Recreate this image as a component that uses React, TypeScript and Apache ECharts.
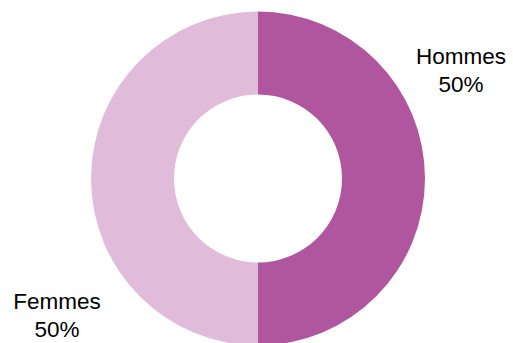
import React, { useEffect, useRef } from "react";
import * as echarts from "echarts";

const categories = ["Hommes", "Femmes"];
const values = [50, 50];
const colors = ["#B0569F", "#E1BCDA"];

export default function App() {
  const ref = useRef<HTMLDivElement>(null);
  useEffect(() => {
    if (!ref.current) return;
    const chart = echarts.init(ref.current, undefined, { renderer: "svg" });
    const labelPos = [
      { x: 461, y: 70 },
      { x: 57, y: 315 },
    ];
    chart.setOption({
      animation: false,
      backgroundColor: "#ffffff",
      series: [
        {
          type: "pie",
          center: [258, 178.5],
          radius: [84, 167],
          startAngle: 90,
          clockwise: true,
          data: categories.map((c, i) => ({
            name: c,
            value: values[i],
            itemStyle: { color: colors[i] },
          })),
          label: {
            show: false,
          },
          labelLine: { show: false },
          emphasis: { disabled: true },
        },
      ],
      graphic: categories.map((c, i) => ({
        type: "text",
        x: labelPos[i].x,
        y: labelPos[i].y,
        style: {
          text: c + "\n" + Math.round((values[i] / values.reduce((a, b) => a + b, 0)) * 100) + "%",
          fontFamily: "Liberation Sans, Arial, sans-serif",
          fontSize: 22.5,
          lineHeight: 28,
          fill: "#000000",
          align: "center",
          verticalAlign: "middle",
        },
      })),
    });
    return () => chart.dispose();
  }, []);
  return (
    <div
      ref={ref}
      style={{ position: "fixed", left: 0, top: 0, width: 513, height: 343 }}
    />
  );
}
